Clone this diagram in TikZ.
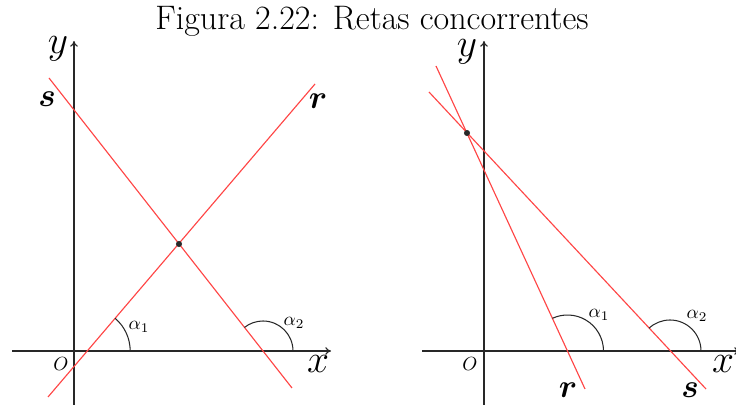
\documentclass[tikz,border=0pt]{standalone}
\usepackage{amsmath,amssymb,bm}
\usetikzlibrary{arrows.meta}
\definecolor{lred}{RGB}{255,70,70}
\definecolor{axgray}{RGB}{40,40,40}
\begin{document}
\begin{tikzpicture}[x=0.526pt,y=-0.526pt,
  axis/.style={draw=axgray,line width=0.6pt,-{To[length=3pt,width=4pt]}},
  reta/.style={draw=lred,line width=0.6pt},
  ang/.style={draw=axgray,line width=0.55pt},
  pt/.style={circle,fill=axgray,inner sep=0pt,minimum size=3.2pt},
  lbl/.style={inner sep=0pt}]
\useasboundingbox (0,0) rectangle (736,405);
\node[lbl] (title) at (372,21) {\fontsize{17.9}{21}\selectfont Figura 2.22: Retas concorrentes};

% ---------- left panel ----------
\coordinate (Lx0) at (12,351);
\coordinate (Lx1) at (331,351);
\coordinate (Ly0) at (74,405);
\coordinate (Ly1) at (74,41);
\draw[axis] (Lx0) -- (Lx1);
\draw[axis] (Ly0) -- (Ly1);
\node[lbl] (LO) at (61,364) {$O$};
\node[lbl] (Lxl) at (318,364) {\huge $x$};
\node[lbl] (Lyl) at (58,49) {\huge $y$};

\coordinate (Lr0) at (48,397);
\coordinate (Lr1) at (315,84);
\coordinate (Ls0) at (49,78);
\coordinate (Ls1) at (292,388);
\draw[reta] (Lr0) -- (Lr1);
\draw[reta] (Ls0) -- (Ls1);
\node[pt] (LP) at (179,244) {};
\node[lbl] (Lrl) at (318,101) {\LARGE $\bm{r}$};
\node[lbl] (Lsl) at (47,99) {\LARGE $\bm{s}$};

\coordinate (La1) at (130.2,351);
\draw[ang] (La1) arc[start angle=0,end angle=-49.5,radius=43];
\coordinate (La2) at (293,351);
\draw[ang] (La2) arc[start angle=0,end angle=-128.1,radius=30];
\node[lbl] (Lal1) at (139,327) {$\alpha_1$};
\node[lbl] (Lal2) at (294,323) {$\alpha_2$};

% ---------- right panel ----------
\coordinate (Rx0) at (422,351);
\coordinate (Rx1) at (740,351);
\coordinate (Ry0) at (484,405);
\coordinate (Ry1) at (484,41);
\draw[axis] (Rx0) -- (Rx1);
\draw[axis] (Ry0) -- (Ry1);
\node[lbl] (RO) at (470,364) {$O$};
\node[lbl] (Rxl) at (723,364) {\huge $x$};
\node[lbl] (Ryl) at (467,52) {\huge $y$};

\coordinate (Rr0) at (436,66);
\coordinate (Rr1) at (585,389);
\coordinate (Rs0) at (429,92);
\coordinate (Rs1) at (706,389);
\draw[reta] (Rr0) -- (Rr1);
\draw[reta] (Rs0) -- (Rs1);
\node[pt] (RP) at (467,133) {};
\node[lbl] (Rrl) at (568,390) {\LARGE $\bm{r}$};
\node[lbl] (Rsl) at (690,390) {\LARGE $\bm{s}$};

\coordinate (Ra1) at (603.5,351);
\draw[ang] (Ra1) arc[start angle=0,end angle=-114.8,radius=36];
\coordinate (Ra2) at (701,351);
\draw[ang] (Ra2) arc[start angle=0,end angle=-133,radius=31];
\node[lbl] (Ral1) at (599,315) {$\alpha_1$};
\node[lbl] (Ral2) at (697,316) {$\alpha_2$};
\end{tikzpicture}
\end{document}
